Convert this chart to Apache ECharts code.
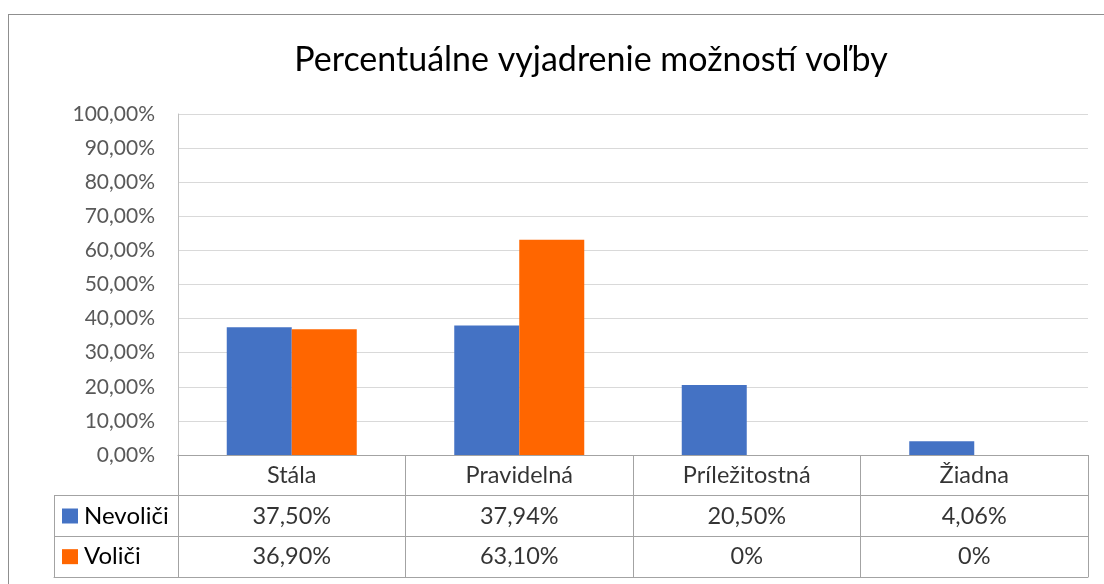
<!DOCTYPE html>
<html><head><meta charset="utf-8">
<script src="https://cdn.jsdelivr.net/npm/echarts@6/dist/echarts.min.js"></script>
<style>
html,body{margin:0;padding:0;overflow:hidden;background:#fff}
#c{width:1104px;height:584px;position:absolute;left:0;top:0}
#frame{position:absolute;left:8px;top:14px;width:1300px;height:800px;border:1px solid #8f8f8f;pointer-events:none}
</style></head><body><div id="c"></div><div id="frame"></div>
<script>
const titleText = 'Percentuálne vyjadrenie možností voľby';
const categories = ['Stála', 'Pravidelná', 'Príležitostná', 'Žiadna'];
const seriesNames = ['Nevoliči', 'Voliči'];
const nevolici = [0.375, 0.3794, 0.205, 0.0406];
const volici = [0.369, 0.631, 0, 0];
const colors = ['#4472C4', '#FF6600'];

const FONT = 'Lato';
const fmtPct = v => v === 0 ? '0%' : (v * 100).toFixed(2).replace('.', ',') + '%';
const fmtTick = v => (v * 100).toFixed(2).replace('.', ',') + '%';
const tableLine = '#a3a3a3';

const tableTop = 455, tableBottom = 577;
const rowH = (tableBottom - tableTop) / 3;

const cellData = [];
categories.forEach((c, i) => cellData.push([i, 0, c]));
nevolici.forEach((v, i) => cellData.push([i, 1, fmtPct(v)]));
volici.forEach((v, i) => cellData.push([i, 2, fmtPct(v)]));

const chart = echarts.init(document.getElementById('c'));
chart.setOption({
  animation: false,
  textStyle: { fontFamily: FONT },
  title: {
    text: titleText, left: 586, top: 38, textAlign: 'center',
    textStyle: { fontFamily: FONT, fontSize: 34, fontWeight: 'normal', color: '#000' }
  },
  grid: [
    { left: 178, right: 16, top: 114, height: tableTop - 114 },
    { left: 178, right: 16, top: tableTop, height: tableBottom - tableTop },
    { left: 54, width: 124, top: tableTop + rowH, height: tableBottom - tableTop - rowH }
  ],
  xAxis: [
    { type: 'category', gridIndex: 0, data: categories, axisLabel: { show: false }, axisTick: { show: false },
      axisLine: { show: true, lineStyle: { color: tableLine } } },
    { type: 'category', gridIndex: 1, data: categories, axisLabel: { show: false }, axisTick: { show: false },
      axisLine: { show: true, lineStyle: { color: tableLine } },
      splitLine: { show: true, lineStyle: { color: tableLine } } },
    { type: 'category', gridIndex: 2, data: [''], axisLabel: { show: false }, axisTick: { show: false },
      axisLine: { show: true, lineStyle: { color: tableLine } },
      splitLine: { show: true, lineStyle: { color: tableLine } } }
  ],
  yAxis: [
    { type: 'value', gridIndex: 0, min: 0, max: 1, interval: 0.1,
      axisLine: { show: true, lineStyle: { color: '#bfbfbf' } }, axisTick: { show: false },
      splitLine: { lineStyle: { color: '#d9d9d9', width: 1 } },
      axisLabel: { formatter: fmtTick, fontFamily: FONT, fontSize: 21, color: '#595959', margin: 23 } },
    { type: 'category', gridIndex: 1, inverse: true, data: ['', seriesNames[0], seriesNames[1]],
      axisLabel: { show: false }, axisTick: { show: false },
      axisLine: { show: true, lineStyle: { color: tableLine } },
      splitLine: { show: true, lineStyle: { color: tableLine } } },
    { type: 'category', gridIndex: 2, inverse: true, data: seriesNames,
      axisTick: { show: false },
      axisLine: { show: true, lineStyle: { color: tableLine } },
      splitLine: { show: true, lineStyle: { color: tableLine } },
      axisLabel: {
        inside: true, margin: 8,
        formatter: (v, i) => '{s' + i + '|}{t|' + v + '}',
        rich: {
          s0: { width: 16, height: 15, backgroundColor: colors[0] },
          s1: { width: 16, height: 15, backgroundColor: colors[1] },
          t: { fontFamily: FONT, fontSize: 24, color: '#000', padding: [0, 0, 0, 6] }
        }
      } }
  ],
  series: [
    { name: seriesNames[0], type: 'bar', xAxisIndex: 0, yAxisIndex: 0, data: nevolici,
      barWidth: 65, barGap: '0%', itemStyle: { color: colors[0] } },
    { name: seriesNames[1], type: 'bar', xAxisIndex: 0, yAxisIndex: 0, data: volici,
      barWidth: 65, barGap: '0%', itemStyle: { color: colors[1] } },
    { type: 'scatter', xAxisIndex: 1, yAxisIndex: 1, data: cellData, symbolSize: 0,
      label: { show: true, position: 'inside', formatter: p => p.value[2],
        fontFamily: FONT, fontSize: 23.5, color: '#000' } }
  ]
});
</script></body></html>
